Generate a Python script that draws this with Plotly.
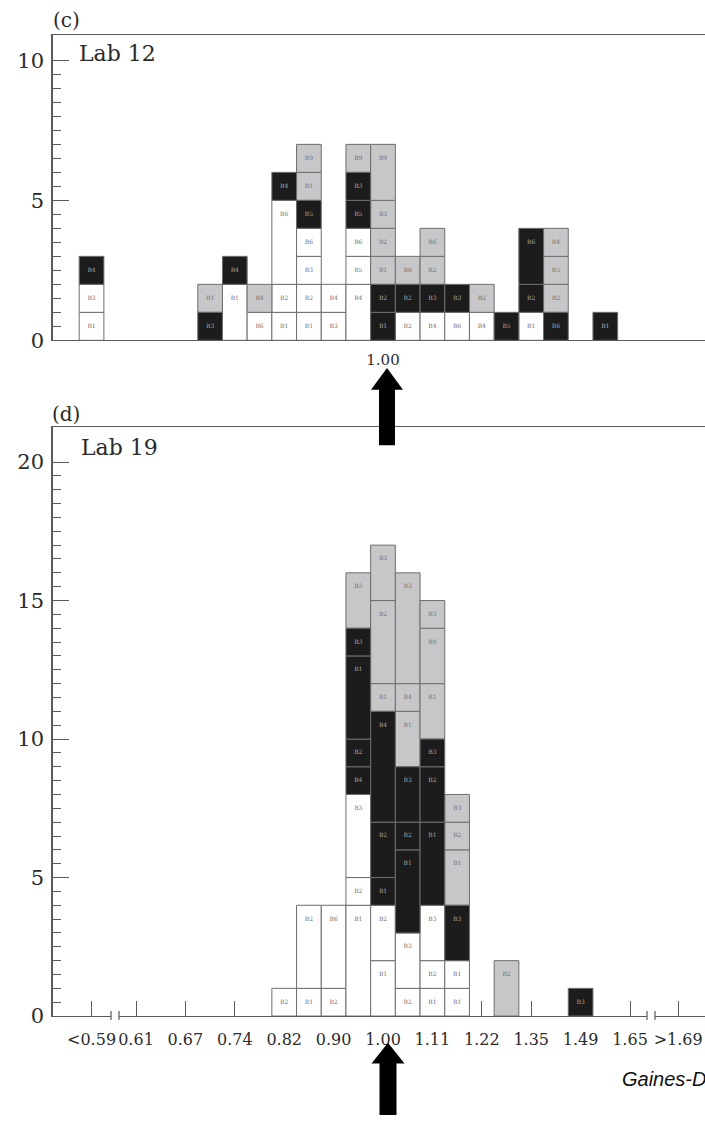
import plotly.graph_objects as go

FIG_W, FIG_H = 705, 1127

# Bin index along the ratio axis (one unit = one histogram bin, log-spaced)
tick_pos = [-11.8, -10, -8, -6, -4, -2, 0, 2, 4, 6, 8, 10, 11.95]
tick_text = ["<0.59", "0.61", "0.67", "0.74", "0.82", "0.90", "1.00",
             "1.11", "1.22", "1.35", "1.49", "1.65", ">1.69"]

# Each stack lists cells from the bottom up as (shade, count, label)
# W = white, G = grey, K = black
lab12_bins = [-11.8, -7, -6, -5, -4, -3, -2, -1, 0, 1, 2, 3, 4, 5, 6, 7, 9]
lab12_stacks = [
    [("W", 1, "B1"), ("W", 1, "B3"), ("K", 1, "B4")],
    [("K", 1, "B3"), ("G", 1, "B1")],
    [("W", 2, "B1"), ("K", 1, "B4")],
    [("W", 1, "B6"), ("G", 1, "B4")],
    [("W", 1, "B1"), ("W", 1, "B2"), ("W", 3, "B6"), ("K", 1, "B4")],
    [("W", 1, "B1"), ("W", 1, "B2"), ("W", 1, "B3"), ("W", 1, "B6"),
     ("K", 1, "B5"), ("G", 1, "B1"), ("G", 1, "B9")],
    [("W", 1, "B3"), ("W", 1, "B4")],
    [("W", 2, "B4"), ("W", 1, "B5"), ("W", 1, "B6"), ("K", 1, "B5"),
     ("K", 1, "B3"), ("G", 1, "B9")],
    [("K", 1, "B1"), ("K", 1, "B2"), ("G", 1, "B1"), ("G", 1, "B2"),
     ("G", 1, "B3"), ("G", 2, "B9")],
    [("W", 1, "B2"), ("K", 1, "B2"), ("G", 1, "B6")],
    [("W", 1, "B4"), ("K", 1, "B3"), ("G", 1, "B2"), ("G", 1, "B6")],
    [("W", 1, "B6"), ("K", 1, "B3")],
    [("W", 1, "B4"), ("G", 1, "B2")],
    [("K", 1, "B5")],
    [("W", 1, "B1"), ("K", 1, "B2"), ("K", 2, "B6")],
    [("K", 1, "B6"), ("G", 1, "B2"), ("G", 1, "B5"), ("G", 1, "B4")],
    [("K", 1, "B1")],
]

lab19_bins = [-4, -3, -2, -1, 0, 1, 2, 3, 5, 8]
lab19_stacks = [
    [("W", 1, "B2")],
    [("W", 1, "B1"), ("W", 3, "B2")],
    [("W", 1, "B2"), ("W", 3, "B6")],
    [("W", 4, "B1"), ("W", 1, "B2"), ("W", 3, "B3"), ("K", 1, "B4"),
     ("K", 1, "B2"), ("K", 3, "B1"), ("K", 1, "B3"), ("G", 2, "B3")],
    [("W", 2, "B1"), ("W", 2, "B2"), ("K", 1, "B1"), ("K", 2, "B2"),
     ("K", 4, "B4"), ("G", 1, "B1"), ("G", 3, "B2"), ("G", 2, "B3")],
    [("W", 1, "B2"), ("W", 2, "B3"), ("K", 3, "B1"), ("K", 1, "B2"),
     ("K", 2, "B3"), ("G", 2, "B1"), ("G", 1, "B4"), ("G", 4, "B3")],
    [("W", 1, "B1"), ("W", 1, "B2"), ("W", 2, "B3"), ("K", 3, "B1"),
     ("K", 2, "B2"), ("K", 1, "B3"), ("G", 2, "B1"), ("G", 2, "B9"),
     ("G", 1, "B3")],
    [("W", 1, "B1"), ("W", 1, "B1"), ("K", 2, "B3"), ("G", 2, "B1"),
     ("G", 1, "B2"), ("G", 1, "B3")],
    [("G", 2, "B2")],
    [("K", 1, "B3")],
]

SHADES = {"W": "#ffffff", "G": "#c7c7c9", "K": "#1c1c1c"}
LABEL_INK = {"W": "#707070", "G": "#707070", "K": "#a8a8a8"}
AX = "#5a5a5a"
INK = "#2b2b2b"
SERIF = "DejaVu Serif"

# pixel layout of the two panels
AXIS_LEFT_PX = 53
BIN_PX = 24.7
CENTER_PX = 383
X_RANGE = [(AXIS_LEFT_PX - CENTER_PX) / BIN_PX, (FIG_W - CENTER_PX) / BIN_PX]


def px(x):
    return x / FIG_W


def py(y):
    return 1 - y / FIG_H


fig = go.Figure()


def add_stacks(bins, stacks, xa, ya):
    for shade in "WGK":
        xs, bases, heights = [], [], []
        for k, stack in zip(bins, stacks):
            b = 0
            for s, n, _ in stack:
                if s == shade:
                    xs.append(k)
                    bases.append(b)
                    heights.append(n)
                b += n
        fig.add_trace(go.Bar(
            x=xs, y=heights, base=bases, width=1,
            marker=dict(color=SHADES[shade], line=dict(color="#6e6e6e", width=1)),
            xaxis=xa, yaxis=ya, showlegend=False, hoverinfo="skip"))
    tx, ty, tt, tc = [], [], [], []
    for k, stack in zip(bins, stacks):
        b = 0
        for s, n, lab in stack:
            b += n
            tx.append(k)
            ty.append(b - 0.5)
            tt.append(lab)
            tc.append(LABEL_INK[s])
    fig.add_trace(go.Scatter(
        x=tx, y=ty, text=tt, mode="text",
        textfont=dict(size=6, color=tc, family="DejaVu Serif"),
        xaxis=xa, yaxis=ya, showlegend=False, hoverinfo="skip"))


add_stacks(lab12_bins, lab12_stacks, "x", "y")
add_stacks(lab19_bins, lab19_stacks, "x2", "y2")


def y_style(top_major, top):
    return dict(
        range=[0, top], showline=True, linecolor=AX, linewidth=1.5,
        ticks="inside", ticklen=16, tickwidth=1.3, tickcolor=AX,
        tickmode="array", tickvals=list(range(0, top_major + 1, 5)),
        minor=dict(tickmode="array",
                   tickvals=[i * 0.5 for i in range(0, top_major * 2 + 1)],
                   ticks="inside", ticklen=8, tickwidth=1, tickcolor=AX),
        showgrid=False, zeroline=False,
        tickfont=dict(family=SERIF, size=21, color=INK),
        ticklabelstandoff=3, fixedrange=True)


fig.update_layout(
    width=FIG_W, height=FIG_H,
    margin=dict(l=0, r=0, t=0, b=0),
    paper_bgcolor="white", plot_bgcolor="white",
    barmode="overlay", showlegend=False,
    xaxis=dict(domain=[px(AXIS_LEFT_PX), 1], range=X_RANGE, anchor="y",
               showline=True, mirror=True, linecolor=AX, linewidth=1.3,
               tickmode="array", tickvals=[0], ticktext=["1.00"], ticks="",
               tickfont=dict(family=SERIF, size=15, color=INK),
               ticklabelstandoff=6, tickangle=0,
               showgrid=False, zeroline=False, layer="below traces"),
    yaxis=dict(domain=[py(344), py(35)], anchor="x", **y_style(10, 10.92)),
    xaxis2=dict(domain=[px(AXIS_LEFT_PX), 1], range=X_RANGE, anchor="y2",
                showline=True, mirror=True, linecolor=AX, linewidth=1.3,
                tickmode="array", tickvals=tick_pos, ticktext=tick_text,
                ticks="inside", ticklen=15, tickwidth=1.3, tickcolor=AX,
                tickfont=dict(family=SERIF, size=16, color=INK),
                ticklabelstandoff=9, tickangle=0,
                showgrid=False, zeroline=False, layer="below traces"),
    yaxis2=dict(domain=[py(1027), py(432)], anchor="x2", **y_style(20, 21.25)),
)


def arrow_path(cx, tip, head_base, bottom, head_hw, shaft_hw):
    pts = [(cx, tip), (cx + head_hw, head_base), (cx + shaft_hw, head_base),
           (cx + shaft_hw, bottom), (cx - shaft_hw, bottom),
           (cx - shaft_hw, head_base), (cx - head_hw, head_base)]
    d = "M " + " L ".join(f"{px(x):.5f},{py(y):.5f}" for x, y in pts) + " Z"
    return dict(type="path", path=d, xref="paper", yref="paper",
                fillcolor="black", line=dict(width=0), layer="above")


shapes = [
    arrow_path(387, 372, 394, 450, 16, 8),
    arrow_path(388, 1054, 1075, 1127, 16.5, 8.5),
]

# axis breaks on the lower ratio axis
for bx in (115, 651):
    shapes.append(dict(type="rect", xref="paper", yref="paper",
                       x0=px(bx - 4), x1=px(bx + 4), y0=py(1031), y1=py(1023),
                       fillcolor="white", line=dict(width=0), layer="above"))
    for dx in (-4, 4):
        shapes.append(dict(type="line", xref="paper", yref="paper",
                           x0=px(bx + dx), x1=px(bx + dx), y0=py(1031), y1=py(1022),
                           line=dict(color=AX, width=1.2), layer="above"))

fig.update_layout(shapes=shapes)

annotations = [
    dict(text="(c)", x=px(66), y=py(20), xanchor="center", yanchor="middle",
         font=dict(family=SERIF, size=20, color=INK)),
    dict(text="Lab 12", x=px(77), y=py(54), xanchor="left", yanchor="middle",
         font=dict(family=SERIF, size=22, color=INK)),
    dict(text="(d)", x=px(66), y=py(418), xanchor="center", yanchor="middle",
         font=dict(family=SERIF, size=20, color=INK)),
    dict(text="Lab 19", x=px(79), y=py(452), xanchor="left", yanchor="middle",
         font=dict(family=SERIF, size=22, color=INK)),
    dict(text="Gaines-D", x=px(620), y=py(1091), xanchor="left", yanchor="middle",
         font=dict(family="Liberation Sans", size=20, color="#111111", style="italic")),
]
for a in annotations:
    a.update(xref="paper", yref="paper", showarrow=False)
fig.update_layout(annotations=annotations)

fig.write_html("out.html")
